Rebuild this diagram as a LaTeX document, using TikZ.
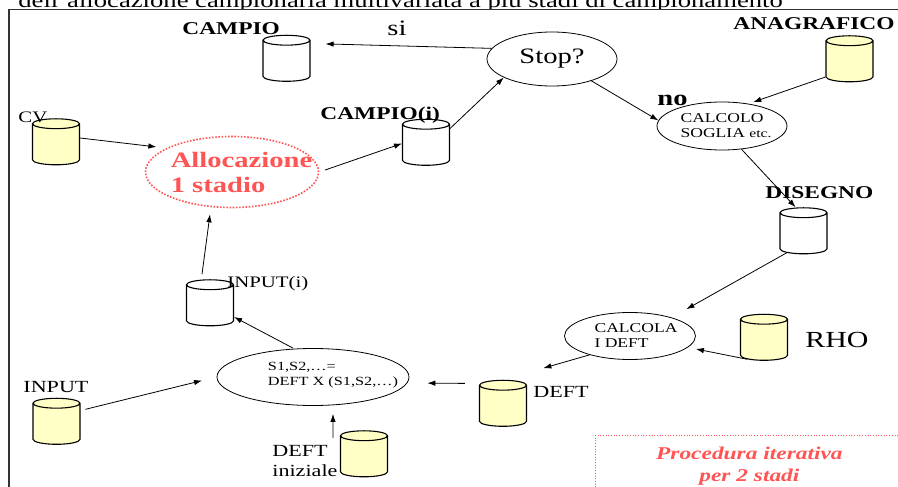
\documentclass[tikz,border=0pt]{standalone}
\usepackage{fontspec}
\setmainfont{Liberation Serif}[FakeStretch=1.3]
\usetikzlibrary{arrows.meta,shapes.geometric}
\definecolor{dbyellow}{RGB}{255,255,198}
\definecolor{allocred}{RGB}{255,84,84}

\begin{document}
\begin{tikzpicture}[x=1pt,y=-1pt,->,>={Latex[length=8pt,width=5.5pt]},line width=0.8pt,
  db/.style={draw,-,cylinder,shape border rotate=90,aspect=0.21,minimum width=47pt,minimum height=46pt,
    line width=1.1pt,inner xsep=23.5pt,inner ysep=0pt,yshift=-4pt},
  dby/.style={db,fill=dbyellow},
  proc/.style={draw,-,ellipse,inner sep=0pt},
  ptext/.style={align=left,inner sep=0pt,font=\fontsize{13.5}{15}\selectfont},
  lbl/.style={anchor=base west,inner sep=0pt,font=\fontsize{17}{20}\selectfont},
  blbl/.style={lbl,font=\fontsize{18}{21}\selectfont\bfseries}]
  \useasboundingbox (0,0) rectangle (898,487);
  \fill[white] (0,0) rectangle (898,487);

  % titolo tagliato in alto
  \node[anchor=base west,inner sep=0pt,font=\fontsize{20.5}{24}\selectfont] (TITLE) at (18,8)
    {dell'allocazione campionaria multivariata a più stadi di campionamento};
  \fill[white] (9,9.5) rectangle (900,490);
  \draw[-,line width=1.8pt,black!80] (9,490) -- (9,9.5) -- (900,9.5);

  % archivi
  \node[db]  (CAMPIO)  at (286.5,59.5) {};
  \node[dby] (CV)      at (56,143)     {};
  \node[db]  (CAMPIOi) at (426,143.5)  {};
  \node[dby] (ANAG)    at (849.5,60)   {};
  \node[db]  (DISEGNO) at (803.5,232)  {};
  \node[db]  (INPUTi)  at (210,304)    {};
  \node[dby] (INPUT)   at (56.5,422.5) {};
  \node[dby] (DEFT0)   at (364,455)    {};
  \node[dby] (RHO)     at (764,338.5)  {};
  \node[dby] (DEFT)    at (503,404.5)  {};

  % procedure
  \node[proc,minimum width=130pt,minimum height=54pt,font=\fontsize{22}{26}\selectfont] (STOP) at (552,59) {Stop?};
  \node[proc,minimum width=130pt,minimum height=48pt,
    label={[ptext,xshift=4pt]center:CALCOLO\\SOGLIA {\fontsize{12}{15}\selectfont etc.}}] (SOGLIA) at (722,126) {};
  \node[proc,draw=allocred,dash pattern=on 1.6pt off 1.6pt,line width=1.6pt,minimum width=173pt,minimum height=71pt,
    label={[ptext,xshift=9.5pt,text=allocred,font=\fontsize{22}{25}\selectfont\bfseries]center:Allocazione\\1 stadio}] (ALLOC) at (232,172) {};
  \node[proc,minimum width=131pt,minimum height=47pt,
    label={[ptext,xshift=6pt]center:CALCOLA\\I DEFT}] (CALCDEFT) at (630,336) {};
  \node[proc,minimum width=192pt,minimum height=57pt,
    label={[ptext,xshift=20pt,yshift=1.5pt,font=\fontsize{12.5}{15}\selectfont]center:S1,S2,\dots=\\DEFT X (S1,S2,\dots)}] (SMULT) at (313,377) {};

  % etichette
  \node[blbl] (lCAMPIO) at (182,35) {CAMPIO};
  \node[lbl,font=\fontsize{22}{26}\selectfont] (lSI) at (387,36) {si};
  \node[lbl,font=\fontsize{16}{19}\selectfont] (lCV) at (18,123) {CV};
  \node[blbl] (lCAMPIOi) at (320,120) {CAMPIO(i)};
  \node[blbl] (lANAG) at (733,30) {ANAGRAFICO};
  \node[lbl,font=\fontsize{22}{26}\selectfont\bfseries] (lNO) at (657,106) {no};
  \node[blbl] (lDISEGNO) at (765,198) {DISEGNO};
  \node[lbl,font=\fontsize{16}{19}\selectfont] (lINPUTi) at (227,287) {INPUT(i)};
  \node[lbl] (lINPUT) at (23,392) {INPUT};
  \node[lbl] (lDEFT0a) at (272,456) {DEFT};
  \node[lbl] (lDEFT0b) at (272,476) {iniziale};
  \node[lbl,font=\fontsize{23}{27}\selectfont] (lRHO) at (805,347) {RHO};
  \node[lbl] (lDEFT) at (533,397) {DEFT};

  \node[draw=allocred,-,dash pattern=on 0.9pt off 1.8pt,minimum width=308pt,minimum height=62pt,anchor=north west,
    text=allocred,align=center,font=\fontsize{18}{22}\selectfont\bfseries\itshape] (PROC) at (595,435)
    {Procedura iterativa\\per 2 stadi};

  \path (STOP.170) edge[shorten >=15pt] ([yshift=20pt]CAMPIO.east)
        ([yshift=9pt]CV.east) edge[shorten >=10pt] (ALLOC.160)
        (ALLOC.east) edge[shorten <=6pt] ([yshift=4pt]CAMPIOi.west)
        ([yshift=19pt]CAMPIOi.east) edge (STOP.201)
        (STOP.331) edge (SOGLIA.175)
        ([yshift=-13pt]ANAG.west) edge[shorten >=5pt] (SOGLIA.40)
        (SOGLIA.310) edge ([xshift=-8pt]DISEGNO.north)
        (DISEGNO.south west) edge[shorten >=17pt] (CALCDEFT.24)
        (RHO.south west) edge ([yshift=-13pt]CALCDEFT.east)
        (CALCDEFT.205) edge[shorten >=42pt] (DEFT.north)
        ([yshift=25pt]DEFT.west) edge[shorten <=14pt,shorten >=18pt] ([yshift=-6pt]SMULT.east)
        ([yshift=16pt]INPUT.east) edge[shorten <=5pt,shorten >=15pt] (SMULT.west)
        ([xshift=-7pt,yshift=21pt]DEFT0.west) edge ([xshift=20pt,yshift=-8pt]SMULT.south)
        ([xshift=-20pt]SMULT.north) edge ([yshift=-9pt]INPUTi.east)
        ([xshift=-8pt,yshift=5pt]INPUTi.north) edge ([xshift=-22pt,yshift=-6pt]ALLOC.south);
\end{tikzpicture}
\end{document}
